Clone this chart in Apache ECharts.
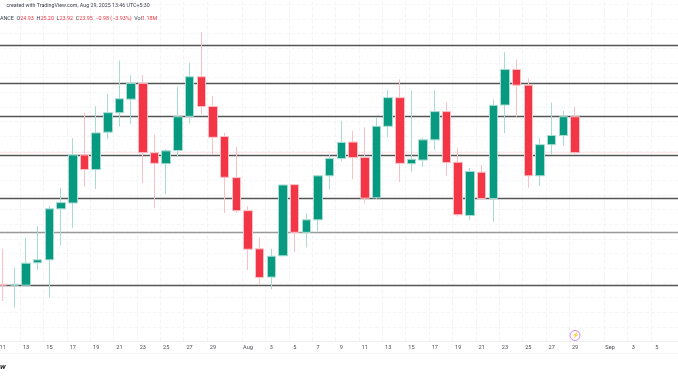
<!DOCTYPE html>
<html><head><meta charset="utf-8">
<style>html,body{margin:0;padding:0;background:#fff}#c{width:678px;height:381px}</style>
<script src="https://cdn.jsdelivr.net/npm/echarts@6/dist/echarts.min.js"></script>
</head><body><div id="c"></div>
<script>
const tickLabels = ['11','','13','','15','','17','','19','','21','','23','','25','','27','','29','','','Aug','','3','','5','','7','','9','','11','','13','','15','','17','','19','','21','','23','','25','','27','','29','','','Sep','','3','','5','',''];
const opens  = [20.36,20.34,20.34,20.95,21.03,22.42,22.58,23.89,23.49,24.51,25.04,25.41,25.84,23.95,23.65,24.01,24.94,26.02,25.21,24.39,23.27,22.37,21.33,20.56,21.14,23.08,21.78,22.12,23.32,23.79,24.24,23.82,22.72,24.67,25.45,23.65,23.75,24.30,25.07,23.69,22.24,23.42,22.70,25.25,26.22,25.79,23.32,24.17,24.42,24.93];
const closes = [20.34,20.36,20.94,21.03,22.42,22.59,23.89,23.49,24.49,25.04,25.42,25.84,23.95,23.66,24.00,24.93,26.02,25.21,24.37,23.28,22.37,21.32,20.55,21.13,23.07,21.78,22.12,23.32,23.79,24.23,23.82,22.71,24.67,25.45,23.66,23.77,24.30,25.07,23.68,22.26,23.44,22.70,25.24,26.22,25.79,23.32,24.17,24.42,24.93,23.95];
const lows   = [19.91,19.73,20.34,20.75,20.00,21.43,21.90,23.02,22.96,24.32,24.66,24.73,23.12,22.45,22.82,23.84,24.75,25.00,23.91,22.31,22.31,20.75,20.36,20.23,21.13,21.24,21.37,21.80,22.95,23.72,23.23,22.57,22.69,24.37,23.15,23.43,23.56,24.02,23.33,22.21,22.12,22.66,22.07,24.48,24.93,23.00,23.05,23.89,24.14,23.92];
const highs  = [21.33,20.82,21.63,21.95,22.50,22.99,24.35,25.04,25.22,25.55,26.46,26.07,26.07,24.44,24.05,25.75,26.40,27.23,25.49,24.49,24.11,22.50,21.64,21.33,23.08,23.10,22.30,23.34,23.89,24.82,24.55,24.64,24.91,25.66,25.95,25.64,24.37,25.66,25.32,24.07,23.54,23.61,25.40,26.69,26.49,25.98,24.35,25.32,25.09,25.20];
const levels = [26.89,25.84,24.94,23.88,22.70,20.35];
const lightLevels = [21.78];
const lastPrice = 23.95;
const eventIndex = 49;
const eventLevel = 18.97;

const FONT = 'Roboto';
const candles = opens.map((o,i)=>[o,closes[i],lows[i],highs[i]]);
const chart = echarts.init(document.getElementById('c'),null,{renderer:'canvas'});
const levelLine = (v,color,w)=>({yAxis:v,lineStyle:{color:color,width:w,type:'solid',opacity:1}});
chart.setOption({
  animation:false,
  backgroundColor:'#ffffff',
  title:[
    {text:'created with TradingView.com, Aug 29, 2025 13:46 UTC+5:30',left:6.5,top:3.5,padding:0,textStyle:{fontFamily:FONT,fontSize:5.3,fontWeight:'normal',color:'#3a3e48'}},
    {text:'{k|ANCE}  {k|O}{v|24.93}  {k|H}{v|25.20}  {k|L}{v|23.92}  {k|C}{v|23.95}  {v|−0.98 (−3.93%)}  {k|Vol}{v|1.18M}',left:0,top:16,padding:0,
     textStyle:{fontFamily:FONT,fontSize:5.4,fontWeight:'normal',rich:{k:{fontFamily:FONT,fontSize:5.4,color:'#3a3e48'},v:{fontFamily:FONT,fontSize:5.4,color:'#f23645'}}}},
    {text:'w',left:0,top:363,padding:0,textStyle:{fontFamily:FONT,fontSize:8,fontStyle:'italic',fontWeight:'bold',color:'#222'}}
  ],
  grid:{left:-3.14,right:-8,top:-10.6,height:352.3,outerBoundsMode:'none'},
  xAxis:{type:'category',data:tickLabels.map((_,i)=>i),boundaryGap:true,
    axisTick:{show:false},axisLine:{lineStyle:{color:'#f0f1f3',width:1}},
    axisLabel:{interval:0,margin:3,color:'#4a4e58',fontFamily:FONT,fontSize:5.6,formatter:(v,i)=>tickLabels[i]},
    splitLine:{show:true,interval:(i)=>tickLabels[i]!=='',lineStyle:{color:'#f3f4f6',width:1,type:'dashed'}}},
  yAxis:{type:'value',min:18.8,max:28.4,interval:0.4,
    axisLabel:{show:false},axisTick:{show:false},axisLine:{show:false},
    splitLine:{show:true,lineStyle:{color:'#f5f6f7',width:1,type:'dashed'}}},
  series:[
    {type:'candlestick',name:'Price',z:3,data:candles,barWidth:9,
     itemStyle:{color:'#089981',color0:'#f23645',borderColor:'#a8dcd2',borderColor0:'#fbc0c6',borderWidth:1},
     markLine:{silent:true,symbol:'none',label:{show:false},z:1,animation:false,
       data:[levelLine(lastPrice,'#fde6e8',1),
             ...levels.map(v=>levelLine(v,'#555555',1.4)),
             ...lightLevels.map(v=>levelLine(v,'#999999',1.4))]}},
    {type:'scatter',name:'Event',data:[[eventIndex,eventLevel]],symbol:'circle',symbolSize:10,
     itemStyle:{color:'#ffffff',borderColor:'#c66bdc',borderWidth:1},
     label:{show:true,position:'inside',formatter:'⚡',fontSize:6,color:'#b13fd0'}}
  ],
  graphic:[{type:'line',shape:{x1:0,y1:353.5,x2:678,y2:353.5},style:{stroke:'#f4f5f6',lineWidth:1}}]
});
</script></body></html>
